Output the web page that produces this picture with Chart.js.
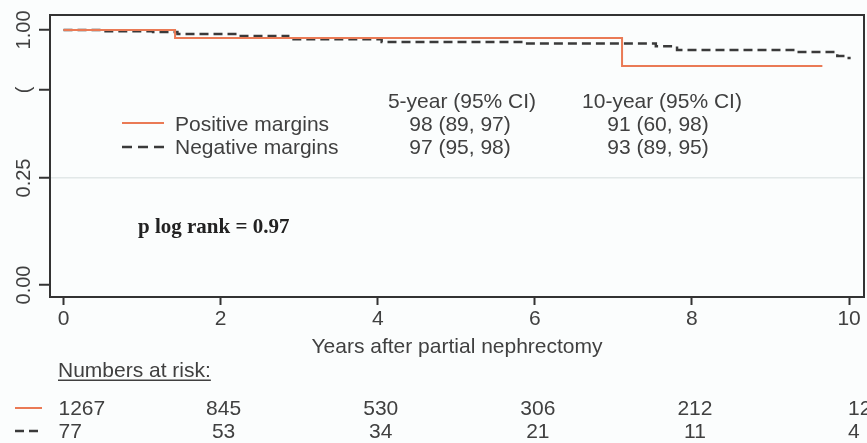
<!DOCTYPE html>
<html>
<head>
<meta charset="utf-8">
<script src="https://cdn.jsdelivr.net/npm/chart.js@4"></script>
<style>
  html, body { margin: 0; padding: 0; background: #fbfdfd; }
  #wrap { width: 867px; height: 443px; }
</style>
</head>
<body>
<div id="wrap"><canvas id="km" width="867" height="443"></canvas></div>
<script>
// Kaplan-Meier estimates, years after partial nephrectomy
const xTicks = [0, 2, 4, 6, 8, 10];
const yTicks = [0, 0.25, 0.85, 1];
const yTickLabels = ['0.00', '0.25', '(', '1.00'];

const posTimes = [0, 1.42, 7.11, 9.66];
const posSurv  = [1, 0.98, 0.91, 0.91];

const negTimes = [0, 0.50, 1.14, 1.45, 2.21, 2.86, 4.05, 5.85, 7.54, 7.81, 9.34, 9.85, 9.97, 10.02];
const negSurv  = [1, 0.997, 0.995, 0.990, 0.985, 0.977, 0.970, 0.966, 0.959, 0.950, 0.945, 0.935, 0.930, 0.930];

const groups    = ['Positive margins', 'Negative margins'];
const ciHeaders = ['5-year (95% CI)', '10-year (95% CI)'];
const ci5yr     = ['98 (89, 97)', '97 (95, 98)'];
const ci10yr    = ['91 (60, 98)', '93 (89, 95)'];
const pText     = 'p log rank = 0.97';

const riskTitle = 'Numbers at risk:';
const riskPos = [1267, 845, 530, 306, 212, 121];
const riskNeg = [77, 53, 34, 21, 11, 4];

const ORANGE = '#ea7a55';
const DARK = '#3a3a3a';
const TEXT = '#404040';
const SANS = '"Liberation Sans", Arial, sans-serif';

// Survival axis: piecewise-linear so the top of the range gets most of the height.
const KNOTS = [[-0.05, 0], [0, 0.0426], [0.25, 0.422], [0.85, 0.734], [1, 0.947], [1.04, 1]];
class StretchScale extends Chart.LinearScale {
  static id = 'stretch';
  static defaults = Chart.LinearScale.defaults;
  toDecimal(v) {
    for (let i = 1; i < KNOTS.length; i++) {
      const [v0, d0] = KNOTS[i - 1], [v1, d1] = KNOTS[i];
      if (v <= v1 || i === KNOTS.length - 1) return d0 + (v - v0) * (d1 - d0) / (v1 - v0);
    }
  }
  fromDecimal(d) {
    for (let i = 1; i < KNOTS.length; i++) {
      const [v0, d0] = KNOTS[i - 1], [v1, d1] = KNOTS[i];
      if (d <= d1 || i === KNOTS.length - 1) return v0 + (d - d0) * (v1 - v0) / (d1 - d0);
    }
  }
  getPixelForValue(v) { return this.getPixelForDecimal(this.toDecimal(v)); }
  getValueForPixel(p) { return this.fromDecimal(this.getDecimalForPixel(p)); }
}
Chart.register(StretchScale);

const toPoints = (ts, ss) => ts.map((t, i) => ({ x: t, y: ss[i] }));

const decor = {
  id: 'decor',
  afterDraw(chart) {
    const { ctx, chartArea: a, scales: { x, y } } = chart;
    ctx.save();

    // plot frame
    ctx.strokeStyle = '#333';
    ctx.lineWidth = 2;
    ctx.strokeRect(a.left, a.top, a.right - a.left, a.bottom - a.top);

    // vertical tick labels on the survival axis
    ctx.fillStyle = TEXT;
    ctx.font = '20px ' + SANS;
    ctx.textAlign = 'center';
    ctx.textBaseline = 'alphabetic';
    yTicks.forEach((v, i) => {
      ctx.save();
      ctx.translate(30, y.getPixelForValue(v));
      ctx.rotate(-Math.PI / 2);
      ctx.fillText(yTickLabels[i], 0, 0);
      ctx.restore();
    });

    // estimates table with line key
    ctx.font = '21px ' + SANS;
    ctx.textAlign = 'center';
    ctx.fillText(ciHeaders[0], 462, 108);
    ctx.fillText(ciHeaders[1], 662, 108);
    const rowY = [131, 154];
    groups.forEach((g, i) => {
      ctx.textAlign = 'left';
      ctx.fillText(g, 175, rowY[i]);
      ctx.textAlign = 'center';
      ctx.fillText(ci5yr[i], 460, rowY[i]);
      ctx.fillText(ci10yr[i], 658, rowY[i]);
    });
    const keyLine = (x0, x1, yy, color, dash, w) => {
      ctx.save();
      ctx.strokeStyle = color;
      ctx.lineWidth = w;
      ctx.setLineDash(dash);
      ctx.beginPath();
      ctx.moveTo(x0, yy);
      ctx.lineTo(x1, yy);
      ctx.stroke();
      ctx.restore();
    };
    keyLine(122, 164, 123, ORANGE, [], 2);
    keyLine(122, 166, 147, DARK, [10, 6], 2.5);

    // log-rank p value
    ctx.fillStyle = '#222';
    ctx.font = 'bold 21px "Liberation Serif", "Times New Roman", serif';
    ctx.textAlign = 'left';
    ctx.fillText(pText, 138, 233);

    // numbers at risk
    ctx.fillStyle = TEXT;
    ctx.font = '21px ' + SANS;
    ctx.fillText(riskTitle, 58, 377);
    const tw = ctx.measureText(riskTitle).width;
    ctx.fillRect(58, 379.5, tw, 1.5);

    keyLine(15, 42, 408, ORANGE, [], 2);
    keyLine(15, 42, 431, DARK, [9, 5], 2.5);

    const drawRow = (vals, yy) => {
      vals.forEach((n, i) => {
        const px = x.getPixelForValue(xTicks[i]);
        if (i === 0) { ctx.textAlign = 'left'; ctx.fillText(String(n), px - 5, yy); }
        else if (i === vals.length - 1) { ctx.textAlign = 'left'; ctx.fillText(String(n), px - 1, yy); }
        else { ctx.textAlign = 'center'; ctx.fillText(String(n), px + 3, yy); }
      });
    };
    drawRow(riskPos, 415);
    drawRow(riskNeg, 438);

    ctx.restore();
  }
};

new Chart(document.getElementById('km'), {
  type: 'line',
  data: {
    datasets: [
      {
        label: groups[0],
        data: toPoints(posTimes, posSurv),
        borderColor: ORANGE,
        borderWidth: 2,
        stepped: true,
        pointRadius: 0,
        fill: false
      },
      {
        label: groups[1],
        data: toPoints(negTimes, negSurv),
        borderColor: DARK,
        borderWidth: 2.5,
        borderDash: [9, 5],
        stepped: true,
        pointRadius: 0,
        fill: false
      }
    ]
  },
  options: {
    responsive: false,
    animation: false,
    devicePixelRatio: 1,
    events: [],
    layout: { padding: { top: 15, right: 3, bottom: 83, left: 0 } },
    plugins: { legend: { display: false }, tooltip: { enabled: false } },
    scales: {
      x: {
        type: 'linear',
        min: -0.172,
        max: 10.19,
        afterBuildTicks: s => { s.ticks = xTicks.map(v => ({ value: v })); },
        afterFit: s => { s.height = 63; },
        ticks: { font: { size: 21, family: SANS }, color: TEXT, padding: 2, maxRotation: 0, autoSkip: false, callback: v => String(v) },
        grid: { drawOnChartArea: false, tickColor: '#333', tickLength: 8, tickWidth: 2 },
        border: { color: '#333', width: 2 },
        title: { display: true, text: 'Years after partial nephrectomy', font: { size: 21, family: SANS }, color: TEXT, padding: 0 }
      },
      y: {
        type: 'stretch',
        min: -0.05,
        max: 1.04,
        afterBuildTicks: s => { s.ticks = yTicks.map(v => ({ value: v })); },
        afterFit: s => { s.width = 50; },
        ticks: { display: false },
        grid: {
          color: c => (c.tick && c.tick.value === 0.25) ? '#e2e8e8' : 'rgba(0,0,0,0)',
          lineWidth: 1.5,
          tickColor: '#333',
          tickWidth: 2,
          tickLength: 11
        },
        border: { color: '#333', width: 2 }
      }
    }
  },
  plugins: [decor]
});
</script>
</body>
</html>
